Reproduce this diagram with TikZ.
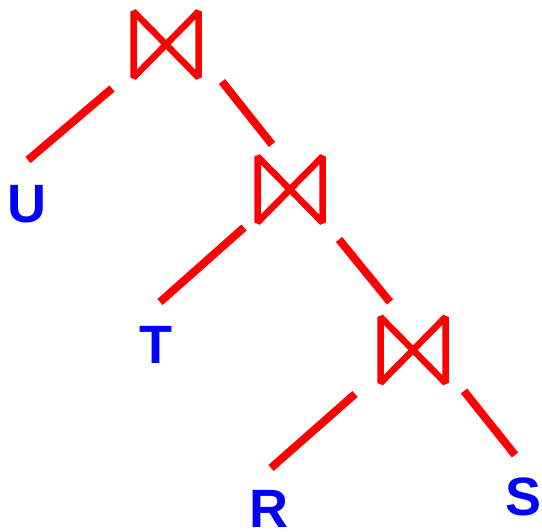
\documentclass[tikz,border=0pt]{standalone}
\usepackage{fontspec}
\setmainfont{Liberation Sans}
\usetikzlibrary{calc}
\definecolor{jred}{RGB}{255,0,0}
\definecolor{lblue}{RGB}{0,0,255}
\tikzset{
  joinbox/.style={rectangle,inner sep=0pt,outer sep=0pt,minimum width=65pt,minimum height=66pt},
  bowtie/.style={draw=jred,line width=6.5pt,line join=miter,miter limit=1.5},
  edgeline/.style={draw=jred,line width=8pt},
  rel/.style={rectangle,inner sep=0pt,outer sep=0pt,text=lblue,text height=40pt,text depth=0pt,font=\fontsize{54}{54}\selectfont\bfseries}
}
\begin{document}
\begin{tikzpicture}[x=1pt,y=-1pt]
\useasboundingbox (0,0) rectangle (542,532);
\node[joinbox] (j1) at (166,44.5) {};
\node[joinbox] (j2) at (290,189.5) {};
\node[joinbox] (j3) at (413,350) {};
\node[rel,anchor=north] (U) at (27,183) {U};
\node[rel,anchor=north] (T) at (156,324) {T};
\node[rel,anchor=north] (R) at (269,487) {R};
\node[rel,anchor=north] (S) at (524,475) {S};
\foreach \j in {j1,j2,j3}
  \path[bowtie] (\j.north west) -- (\j.south east) -- (\j.north east) -- (\j.south west) -- cycle;
\draw[edgeline] ($(j1.center)+(-54,44)$) -- ($(U.north)+(1,-23)$);
\draw[edgeline] ($(j1.center)+(56,37)$) -- ($(j2.center)+(-18,-45)$);
\draw[edgeline] ($(j2.center)+(-46,38)$) -- ($(T.north)+(4,-22)$);
\draw[edgeline] ($(j2.center)+(49,50)$) -- ($(j3.center)+(-23,-48)$);
\draw[edgeline] ($(j3.center)+(-58,44)$) -- ($(R.north)+(2,-19)$);
\draw[edgeline] ($(j3.center)+(51,41)$) -- ($(S.north)+(-9,-20)$);
\end{tikzpicture}
\end{document}
